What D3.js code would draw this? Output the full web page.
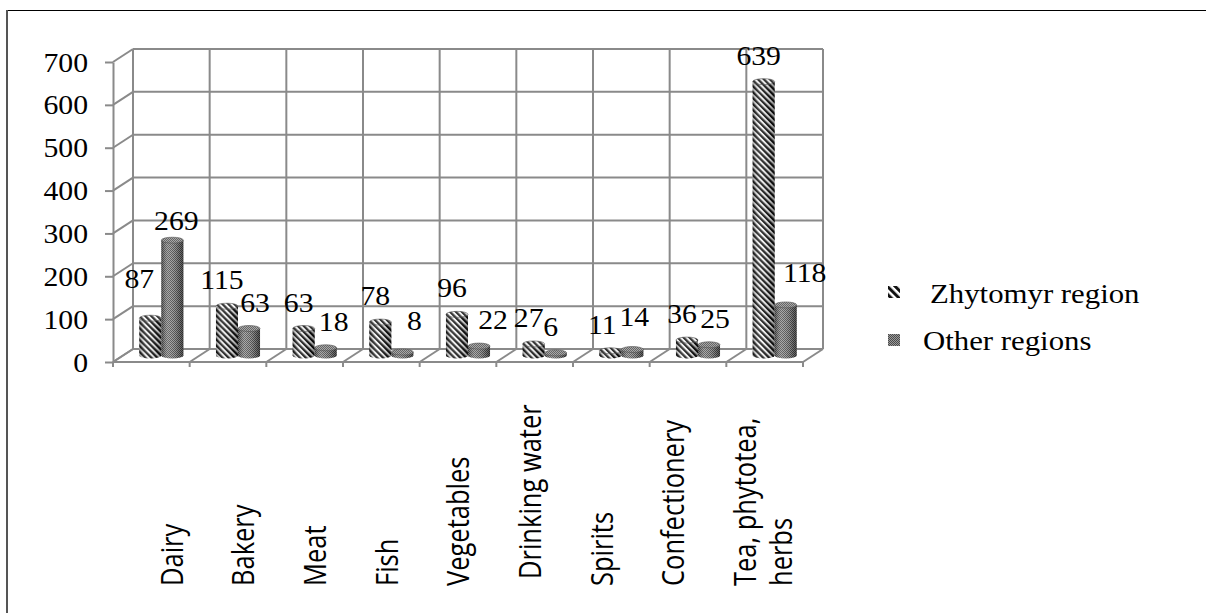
<!DOCTYPE html>
<html>
<head>
<meta charset="utf-8">
<script src="https://cdn.jsdelivr.net/npm/d3@7"></script>
<style>
  html, body { margin: 0; padding: 0; background: #fff; }
  svg { display: block; }
</style>
</head>
<body>
<svg id="chart" width="1206" height="613"></svg>
<script>
// ---- data ----
const categories = ["Dairy", "Bakery", "Meat", "Fish", "Vegetables", "Drinking water", "Spirits", "Confectionery", "Tea, phytotea, herbs"];
const categoryLines = [["Dairy"], ["Bakery"], ["Meat"], ["Fish"], ["Vegetables"], ["Drinking water"], ["Spirits"], ["Confectionery"], ["Tea, phytotea,", "herbs"]];
const seriesNames = ["Zhytomyr region", "Other regions"];
const zhytomyrValues = [87, 115, 63, 78, 96, 27, 11, 36, 639];
const otherValues = [269, 63, 18, 8, 22, 6, 14, 25, 118];
const yTicks = [0, 100, 200, 300, 400, 500, 600, 700];

// ---- layout ----
const svg = d3.select("#chart");
const serif = "'Liberation Serif', 'Times New Roman', serif";
const sans = "'Open Sans', 'Noto Sans', sans-serif";
const grid = "#8a8a8a";
const stretch = 1.1;          // horizontal text stretch
const depth = { dx: 20, dy: -13 };
const front = { left: 113, right: 803, top: 62, bottom: 362 };

const x = d3.scaleBand(categories, [front.left, front.right]).paddingInner(0).paddingOuter(0);
const xs = d3.scaleBand(seriesNames, [0, x.bandwidth()]).paddingInner(0).paddingOuter(0.74);
const y = d3.scaleLinear([0, 700], [front.bottom, front.top]);
const labelX = d3.scalePoint(categories, [182.5, 182.5 + 8 * 71.7]);

const series = seriesNames.map((name, i) => ({
  name,
  key: i === 0 ? "z" : "o",
  values: i === 0 ? zhytomyrValues : otherValues
}));

// ---- patterns & gradients ----
const defs = svg.append("defs");
const pz = defs.append("pattern").attr("id", "stripes").attr("patternUnits", "userSpaceOnUse")
  .attr("width", 4.2).attr("height", 4.2).attr("patternTransform", "rotate(-45)");
pz.append("rect").attr("width", 4.2).attr("height", 4.2).attr("fill", "#f2f2f2");
pz.append("rect").attr("width", 2.2).attr("height", 4.2).attr("fill", "#111");

const pzl = defs.append("pattern").attr("id", "stripesLegend").attr("patternUnits", "userSpaceOnUse")
  .attr("width", 5.5).attr("height", 5.5).attr("patternTransform", "rotate(-45)");
pzl.append("rect").attr("width", 5.5).attr("height", 5.5).attr("fill", "#fff");
pzl.append("rect").attr("width", 3).attr("height", 5.5).attr("fill", "#111");

const po = defs.append("pattern").attr("id", "checker").attr("patternUnits", "userSpaceOnUse")
  .attr("width", 2).attr("height", 2);
po.append("rect").attr("width", 2).attr("height", 2).attr("fill", "#9a9a9a");
po.append("rect").attr("width", 1).attr("height", 1).attr("fill", "#4a4a4a");
po.append("rect").attr("x", 1).attr("y", 1).attr("width", 1).attr("height", 1).attr("fill", "#4a4a4a");

const shade = defs.append("linearGradient").attr("id", "cylShade")
  .attr("x1", 0).attr("x2", 1).attr("y1", 0).attr("y2", 0);
[[0, "#000", 0.35], [0.3, "#fff", 0.18], [0.45, "#fff", 0.12], [0.8, "#000", 0.2], [1, "#000", 0.45]]
  .forEach(([o, c, a]) => shade.append("stop").attr("offset", o).attr("stop-color", c).attr("stop-opacity", a));

// ---- chart border ----
svg.append("line").attr("x1", 7).attr("x2", 1206).attr("y1", 10.5).attr("y2", 10.5)
  .attr("stroke", "#000").attr("stroke-width", 1);
svg.append("line").attr("x1", 7).attr("x2", 7).attr("y1", 10).attr("y2", 613)
  .attr("stroke", "#555").attr("stroke-width", 2);

// ---- walls & floor ----
const walls = svg.append("g").attr("fill", "none").attr("stroke", grid).attr("stroke-width", 2);
const bx0 = front.left + depth.dx, bx1 = front.right + depth.dx;
const yb = v => y(v) + depth.dy;
// back wall horizontal gridlines
walls.selectAll(".hgrid").data(yTicks).join("line")
  .attr("x1", bx0).attr("x2", bx1).attr("y1", d => yb(d)).attr("y2", d => yb(d));
// side wall diagonals
walls.selectAll(".sgrid").data(yTicks).join("line")
  .attr("x1", front.left).attr("x2", bx0).attr("y1", d => y(d)).attr("y2", d => yb(d));
// back wall verticals at category boundaries
const bounds = categories.map(c => x(c)).concat([front.right]);
walls.selectAll(".vgrid").data(bounds).join("line")
  .attr("x1", d => d + depth.dx).attr("x2", d => d + depth.dx)
  .attr("y1", yb(700)).attr("y2", yb(0));
// floor diagonals
walls.selectAll(".fgrid").data(bounds).join("line")
  .attr("x1", d => d).attr("x2", d => d + depth.dx).attr("y1", y(0)).attr("y2", yb(0));
// floor front edge
walls.append("line").attr("x1", front.left).attr("x2", front.right).attr("y1", y(0)).attr("y2", y(0));
// x ticks
walls.selectAll(".xtick").data(bounds).join("line")
  .attr("x1", d => d).attr("x2", d => d).attr("y1", y(0)).attr("y2", y(0) + 5);

// ---- y axis ----
const yAxis = svg.append("g").attr("transform", `translate(${front.left},0)`)
  .call(d3.axisLeft(y).tickValues(yTicks).tickSize(8).tickSizeOuter(0).tickFormat(d3.format("d")));
yAxis.selectAll("path.domain, .tick line").attr("stroke", grid).attr("stroke-width", 2);
yAxis.selectAll(".tick text")
  .attr("x", null).attr("dy", null)
  .attr("transform", `translate(-25,9) scale(${stretch},1)`)
  .attr("font-family", serif).attr("font-size", 27).attr("fill", "#000").attr("text-anchor", "end");

// ---- cylinders ----
const rx = xs.bandwidth() / 2, ry = 3;
const mid = { dx: depth.dx / 2, dy: depth.dy / 2 };
const ym = v => y(v) + mid.dy;
const barCx = (c, s) => x(c) + mid.dx + xs(s) + rx;

const bars = svg.append("g");
series.forEach(s => {
  const fill = s.key === "z" ? "url(#stripes)" : "url(#checker)";
  categories.forEach((c, i) => {
    const v = s.values[i];
    const cx = barCx(c, s.name), xl = cx - rx, xr = cx + rx;
    const yt = ym(v), ybase = ym(0);
    const body = `M${xl},${yt} L${xl},${ybase} A${rx},${ry} 0 0 0 ${xr},${ybase} L${xr},${yt} Z`;
    const g = bars.append("g");
    g.append("path").attr("d", body).attr("fill", fill);
    g.append("path").attr("d", body).attr("fill", "url(#cylShade)");
    g.append("ellipse").attr("cx", cx).attr("cy", yt).attr("rx", rx).attr("ry", ry).attr("fill", fill);
    g.append("ellipse").attr("cx", cx).attr("cy", yt).attr("rx", rx).attr("ry", ry)
      .attr("fill", "#fff").attr("fill-opacity", 0.15).attr("stroke", "#555").attr("stroke-width", 0.6);
  });
});

// ---- value labels ----
const labelNudge = {
  "Dairy|z": [-6, -13], "Dairy|o": [-2, 7], "Meat|o": [2, 0], "Fish|o": [6, -5],
  "Vegetables|o": [8, 0], "Drinking water|o": [-11, 0], "Spirits|z": [-3, 0], "Spirits|o": [-4, -7],
  "Tea, phytotea, herbs|o": [13, -6]
};
const labels = svg.append("g").attr("font-family", serif).attr("font-size", 27).attr("fill", "#000")
  .attr("text-anchor", "middle");
series.forEach(s => {
  categories.forEach((c, i) => {
    const v = s.values[i];
    const n = labelNudge[`${c}|${s.key}`] || [0, 0];
    const lx = barCx(c, s.name) + (s.key === "z" ? -5 : 6) + n[0];
    const ly = ym(v) - 17 + n[1];
    labels.append("text").attr("transform", `translate(${lx},${ly}) scale(${stretch},1)`).text(v);
  });
});

// ---- category labels ----
const labelStart = { "Drinking water": 579 };
const xl = svg.append("g").attr("font-family", sans).attr("font-size", 25.5).attr("fill", "#000");
categories.forEach((c, i) => {
  categoryLines[i].forEach((line, j) => {
    xl.append("text")
      .attr("transform", `translate(${labelX(c) + j * 36},${labelStart[c] || 586}) scale(1.2,1) rotate(-90)`)
      .attr("text-anchor", "start")
      .text(line);
  });
});

// ---- legend ----
const legend = svg.append("g").attr("font-family", serif).attr("font-size", 28).attr("fill", "#000");
const legendRows = [
  { name: seriesNames[0], fill: "url(#stripesLegend)", sy: 286, tx: 930, ty: 302.5 },
  { name: seriesNames[1], fill: "url(#checker)", sy: 334, tx: 923, ty: 350 }
];
legendRows.forEach(r => {
  legend.append("rect").attr("x", 888).attr("y", r.sy).attr("width", 12).attr("height", 12).attr("fill", r.fill);
  legend.append("text").attr("transform", `translate(${r.tx},${r.ty}) scale(${stretch},1)`).text(r.name);
});
</script>
</body>
</html>
